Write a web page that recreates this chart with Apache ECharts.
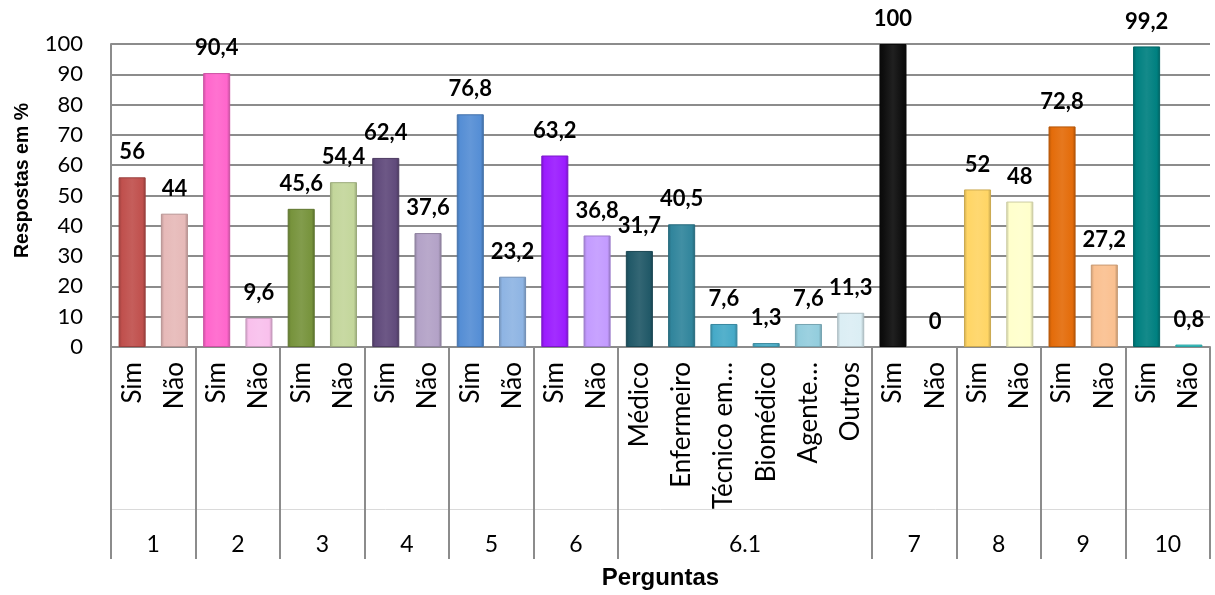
<!DOCTYPE html>
<html>
<head>
<meta charset="utf-8">
<script src="https://cdn.jsdelivr.net/npm/echarts@6/dist/echarts.min.js"></script>
<style>
  html, body { margin: 0; padding: 0; background: #fff; }
  #main { width: 1215px; height: 595px; }
</style>
</head>
<body>
<div id="main"></div>
<script>
// categorias (linha de baixo do eixo x)
var categorias = ['Sim', 'Não', 'Sim', 'Não', 'Sim', 'Não', 'Sim', 'Não', 'Sim', 'Não', 'Sim', 'Não',
  'Médico', 'Enfermeiro', 'Técnico em…', 'Biomédico', 'Agente…', 'Outros',
  'Sim', 'Não', 'Sim', 'Não', 'Sim', 'Não', 'Sim', 'Não'];
// respostas em %
var valores = [56, 44, 90.4, 9.6, 45.6, 54.4, 62.4, 37.6, 76.8, 23.2, 63.2, 36.8,
  31.7, 40.5, 7.6, 1.3, 7.6, 11.3,
  100, 0, 52, 48, 72.8, 27.2, 99.2, 0.8];
// perguntas (grupos) e quantas barras tem cada uma
var perguntas = ['1', '2', '3', '4', '5', '6', '6.1', '7', '8', '9', '10'];
var tamanhos = [2, 2, 2, 2, 2, 2, 6, 2, 2, 2, 2];
var cores = ['#C0504D', '#E6B9B8', '#FF66CC', '#F9C0EC', '#77933C', '#C3D69B', '#604A7B', '#B3A2C7',
  '#558ED5', '#8EB4E3', '#9B1CFF', '#C39BFF', '#215968', '#31859C', '#46AAC8', '#4BACC6',
  '#93CDDD', '#DBEEF4', '#0D0D0D', '#0D0D0D', '#FFD565', '#FFFFCC', '#E46C0A', '#FAC090',
  '#008080', '#33CCCC'];
var yTicks = [0, 10, 20, 30, 40, 50, 60, 70, 80, 90, 100];

// limites e centros dos grupos
var limites = [0], centros = [], nomePorCentro = {};
tamanhos.forEach(function (t, i) {
  var ini = limites[limites.length - 1];
  limites.push(ini + t);
  centros.push(ini + t / 2);
  nomePorCentro[ini + t / 2] = perguntas[i];
});

function escurecer(hex, f) {
  var c = echarts.color.parse(hex);
  return 'rgb(' + Math.round(c[0] * f) + ',' + Math.round(c[1] * f) + ',' + Math.round(c[2] * f) + ')';
}
function clarear(hex, f) {
  var c = echarts.color.parse(hex);
  return 'rgb(' + Math.round(c[0] + (255 - c[0]) * f) + ',' + Math.round(c[1] + (255 - c[1]) * f) + ',' + Math.round(c[2] + (255 - c[2]) * f) + ')';
}

var dados = valores.map(function (v, i) {
  var cor = cores[i];
  return {
    value: v,
    itemStyle: {
      color: new echarts.graphic.LinearGradient(0, 0, 1, 0, [
        {offset: 0, color: escurecer(cor, 0.8)},
        {offset: 0.12, color: cor},
        {offset: 0.5, color: clarear(cor, 0.08)},
        {offset: 0.88, color: cor},
        {offset: 1, color: escurecer(cor, 0.75)}
      ]),
      borderColor: escurecer(cor, 0.8),
      borderWidth: v > 0 ? 1 : 0
    }
  };
});

var myChart = echarts.init(document.getElementById('main'));
var option = {
  animation: false,
  grid: {left: 111, right: 5, top: 44, bottom: 247, containLabel: false},
  xAxis: [
    {
      type: 'category',
      data: categorias,
      axisLine: {lineStyle: {color: '#8C8C8C', width: 2}},
      axisTick: {show: false},
      axisLabel: {
        rotate: 90, margin: 15, color: '#000',
        fontFamily: 'Lato', fontSize: 26, interval: 0
      }
    },
    {
      type: 'value',
      min: 0, max: 26,
      position: 'bottom',
      axisLine: {show: false},
      splitLine: {show: false},
      axisTick: {
        show: true, customValues: limites, length: 212,
        lineStyle: {color: '#8C8C8C', width: 2}
      },
      axisLabel: {
        customValues: centros, margin: 186, color: '#000',
        fontFamily: 'Lato', fontSize: 23, verticalAlign: 'top',
        formatter: function (v) { return nomePorCentro[v] || ''; }
      },
      name: 'Perguntas',
      nameLocation: 'middle',
      nameGap: 231,
      nameTextStyle: {
        fontFamily: 'Liberation Sans', fontWeight: 'bold', fontSize: 24,
        color: '#000', verticalAlign: 'middle'
      }
    },
    {
      type: 'value',
      min: 0, max: 26,
      position: 'bottom',
      offset: 162,
      axisLine: {show: true, lineStyle: {color: '#DADADA', width: 1}},
      axisTick: {show: false},
      axisLabel: {show: false},
      splitLine: {show: false}
    }
  ],
  yAxis: {
    type: 'value',
    min: 0, max: 100, interval: 10,
    name: 'Respostas em %',
    nameLocation: 'middle',
    nameGap: 88,
    nameTextStyle: {
      fontFamily: 'Liberation Sans', fontWeight: 'bold', fontSize: 19.5,
      color: '#000', verticalAlign: 'middle', padding: [0, 0, 0, 30]
    },
    axisLine: {show: true, lineStyle: {color: '#8C8C8C', width: 2}},
    axisTick: {show: false},
    axisLabel: {
      margin: 28, color: '#000', fontFamily: 'Lato', fontSize: 22,
      formatter: function (v) { return yTicks.indexOf(v) >= 0 ? String(v) : ''; }
    },
    splitLine: {lineStyle: {color: '#8C8C8C', width: 2}}
  },
  series: [
    {
      type: 'bar',
      xAxisIndex: 0,
      data: dados,
      barWidth: '64%',
      label: {
        show: true, position: 'top', distance: 14,
        color: '#000', fontFamily: 'Lato', fontWeight: 'bold', fontSize: 22,
        formatter: function (p) { return String(p.value).replace('.', ','); }
      }
    }
  ]
};
myChart.setOption(option);
</script>
</body>
</html>
